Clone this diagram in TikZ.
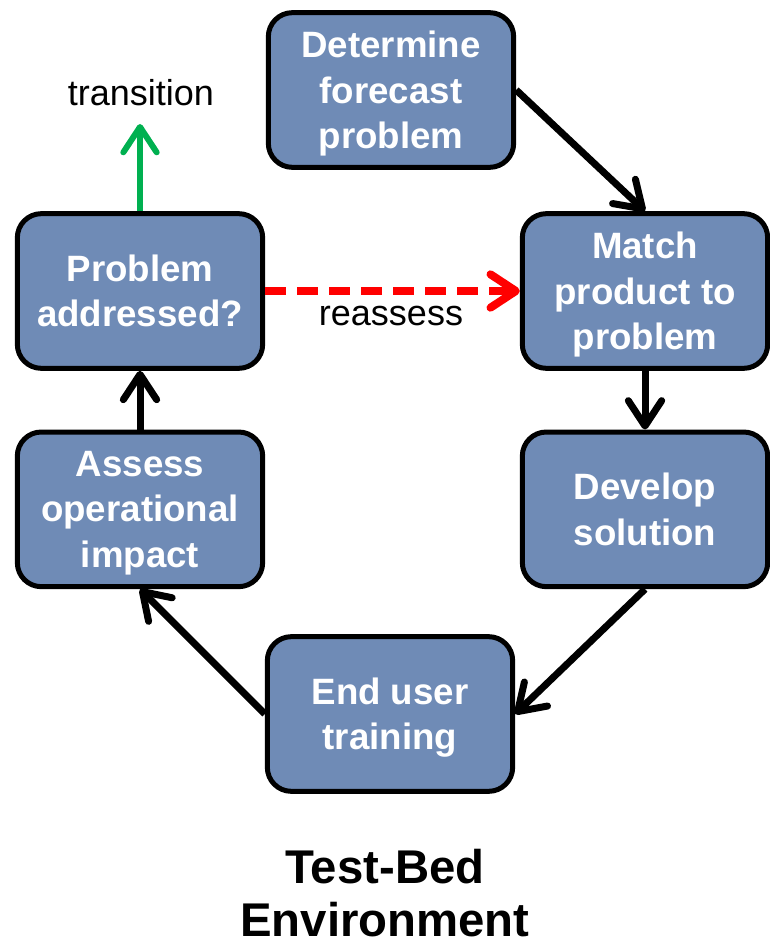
\documentclass[tikz,border=0pt]{standalone}
\usepackage{fontspec}
\setmainfont{Liberation Sans}
\usetikzlibrary{arrows.meta,positioning}
\definecolor{boxblue}{RGB}{111,139,182}
\definecolor{okgreen}{RGB}{0,176,80}

\begin{document}
\begin{tikzpicture}[x=0.75pt, y=-0.75pt, node distance=44pt,
  stage/.style={draw, line width=3.75pt, rounded corners=18pt, fill=boxblue, text=white, align=center, minimum width=184pt, minimum height=116pt, inner sep=2pt, text depth=-6pt, font=\fontsize{27.5}{34}\selectfont\bfseries},
  flow/.style={line width=5.25pt, -{Straight Barb[round, length=19pt, width=25pt]}},
  note/.style={font=\fontsize{27}{33}\selectfont}]
\useasboundingbox (0,0) rectangle (769,945);
\node[stage] (det) at (391,90) {Determine\\forecast\\problem};
\node[stage] (match) at (645,291) {Match\\product to\\problem};
\node[stage, below=of match] (dev) {Develop\\solution};
\node[stage] (train) at (390,714) {End user\\training};
\node[stage] (prob) at (140,291) {Problem\\addressed?};
\node[stage, below=of prob] (assess) {Assess\\operational\\impact};
\node[note] (trans) at (141,93) {transition};
\node[note] (re) at (391,316) {reassess};
\node[font=\fontsize{35.5}{40}\selectfont\bfseries, align=center] (title) at (385,893) {Test-Bed\\Environment};
\coordinate (up) at (140,124);
% the cycle
\draw[flow] (det.east) -- (match.north);
\draw[flow] (match.south) -- (dev.north);
\draw[flow] (dev.south) -- (train.east);
\draw[flow] (train.west) -- (assess.south);
\draw[flow] (assess.north) -- (prob.south);
% ways out of the check
\draw[flow, okgreen, line width=4.5pt] (prob.north) -- (up);
\draw[flow, red, line width=6pt, dash pattern=on 15.75pt off 8.25pt] (prob.east) -- (match.west);
\end{tikzpicture}
\end{document}
